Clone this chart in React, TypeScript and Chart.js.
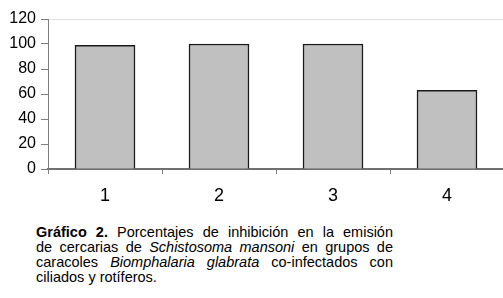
import React, { useEffect, useRef } from "react";
import { Chart, registerables } from "chart.js";
Chart.register(...registerables);

const categories = ["1", "2", "3", "4"];
const inhibition = [99, 100, 100, 63];
const yTickValues = [0, 20, 40, 60, 80, 100, 120];

const captionLines = [
  [
    { t: "Gráfico 2.", b: true },
    { t: " Porcentajes de inhibición en la emisión" },
  ],
  [
    { t: "de cercarias de " },
    { t: "Schistosoma mansoni", i: true },
    { t: " en grupos de" },
  ],
  [
    { t: "caracoles " },
    { t: "Biomphalaria glabrata", i: true },
    { t: " co-infectados con" },
  ],
  [{ t: "ciliados y rotíferos." }],
];

const FONT = "'Liberation Sans', Arial, Helvetica, sans-serif";

export default function App() {
  const ref = useRef<HTMLCanvasElement>(null);
  useEffect(() => {
    const chart = new Chart(ref.current!, {
      type: "bar",
      data: {
        labels: categories,
        datasets: [
          {
            data: inhibition,
            backgroundColor: "#c0c0c0",
            borderColor: "#1a1a1a",
            borderWidth: 1.5,
            barThickness: 60,
          },
        ],
      },
      options: {
        animation: false,
        responsive: false,
        maintainAspectRatio: false,
        layout: { padding: { top: 19, left: 0, right: 0, bottom: 0 } },
        plugins: { legend: { display: false }, tooltip: { enabled: false } },
        scales: {
          x: {
            grid: {
              offset: true,
              drawOnChartArea: false,
              tickColor: "#808080",
              tickLength: 5,
            },
            border: { color: "#707070", width: 2 },
            ticks: {
              color: "#000",
              font: { family: FONT, size: 18 },
              padding: 11,
            },
            afterFit: (s: any) => {
              s.height = 36;
            },
          },
          y: {
            min: 0,
            max: 120,
            afterBuildTicks: (s: any) => {
              s.ticks = yTickValues.map((v) => ({ value: v }));
            },
            grid: {
              color: (ctx: any) =>
                ctx.tick && ctx.tick.value === 120 ? "#e0e0e0" : "rgba(0,0,0,0)",
              tickColor: "#808080",
              tickLength: 7,
            },
            border: { color: "#808080", width: 1 },
            ticks: {
              color: "#000",
              font: { family: FONT, size: 16 },
              padding: 5,
            },
            afterFit: (s: any) => {
              s.width = 48;
            },
          },
        },
      },
    });
    return () => chart.destroy();
  }, []);

  return (
    <div
      style={{
        position: "absolute",
        left: 0,
        top: 0,
        width: 503,
        height: 298,
        overflow: "hidden",
        background: "#fff",
      }}
    >
      <canvas
        ref={ref}
        width={504}
        height={205}
        style={{ position: "absolute", left: 0, top: 0, width: 504, height: 205 }}
      />
      <div
        style={{
          position: "absolute",
          left: 36,
          top: 225,
          width: 357,
          fontFamily: FONT,
          fontSize: 14.5,
          lineHeight: "15px",
          color: "#000",
        }}
      >
        {captionLines.map((line, li) => (
          <div
            key={li}
            style={{
              textAlign: "justify",
              textAlignLast: li < captionLines.length - 1 ? "justify" : "left",
            }}
          >
            {line.map((seg: any, si) => (
              <span
                key={si}
                style={{
                  fontWeight: seg.b ? "bold" : "normal",
                  fontStyle: seg.i ? "italic" : "normal",
                }}
              >
                {seg.t}
              </span>
            ))}
          </div>
        ))}
      </div>
    </div>
  );
}
